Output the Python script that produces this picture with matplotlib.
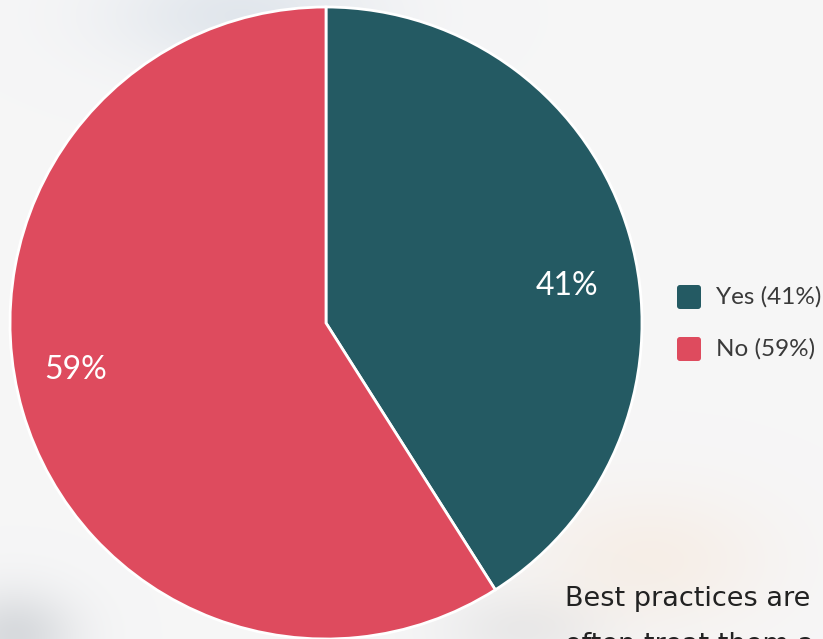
import numpy as np
import matplotlib.pyplot as plt
from matplotlib.patches import FancyBboxPatch

labels = ["Yes", "No"]
shares = [41, 59]
colors = ["#245a63", "#de4b5e"]

W, H = 823, 639
plt.rcParams["font.family"] = ["Lato", "DejaVu Sans"]


def backdrop():
    # soft, out-of-focus photo-like background
    yy, xx = np.mgrid[0:H, 0:W]
    img = np.ones((H, W, 3)) * np.array([0.965, 0.965, 0.968])
    blobs = [
        (240, 15, 130, 55, (-0.08, -0.06, -0.04)),
        (15, 635, 60, 45, (-0.12, -0.11, -0.10)),
        (650, 560, 120, 70, (0.00, -0.03, -0.06)),
        (520, 630, 80, 40, (-0.05, -0.05, -0.05)),
    ]
    for cx, cy, sx, sy, d in blobs:
        g = np.exp(-(((xx - cx) / sx) ** 2 + ((yy - cy) / sy) ** 2))
        img += g[..., None] * np.array(d)
    return np.clip(img, 0, 1)


fig = plt.figure(figsize=(W / 100, H / 100), dpi=100)
ax = fig.add_axes([0, 0, 1, 1])
ax.imshow(backdrop(), extent=(0, W, 0, H), origin="upper", zorder=0)

wedges, texts, autotexts = ax.pie(
    shares, colors=colors, startangle=90, counterclock=False,
    center=(326, H - 323), radius=316,
    autopct=lambda p: f"{round(p)}%", pctdistance=0.78,
    wedgeprops=dict(edgecolor="white", linewidth=2),
    textprops=dict(color="white", fontsize=23),
)
for wdg in wedges:
    wdg.set_zorder(2)
autotexts[0].set_position((567, H - 286))
autotexts[1].set_position((76, H - 370))
for t in autotexts:
    t.set_zorder(3)

# legend
for i, (lab, val, col) in enumerate(zip(labels, shares, colors)):
    y = H - 297 - i * 52
    box = FancyBboxPatch((677, y - 12), 24, 24,
                         boxstyle="round,pad=0,rounding_size=3",
                         facecolor=col, edgecolor="none", zorder=3)
    ax.add_patch(box)
    ax.text(716, y, f"{lab} ({val}%)", fontsize=17.5, color="#3a3a3a",
            va="center", ha="left", zorder=3)

body = dict(fontsize=19.5, color="#222222", ha="left", family="DejaVu Sans")
ax.text(565, H - 606, "Best practices are", va="baseline", **body)
ax.text(565, H - 632, "often treat them a", va="top", **body)

ax.set_xlim(0, W)
ax.set_ylim(0, H)
ax.set_aspect("equal")
ax.axis("off")

fig.savefig("out.png", dpi=100)
